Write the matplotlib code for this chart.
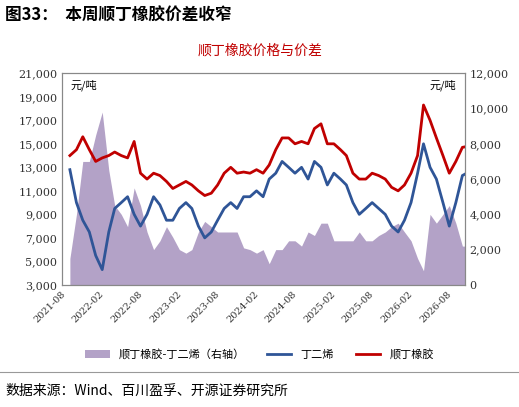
import matplotlib
matplotlib.use("Agg")
import matplotlib.pyplot as plt
import pandas as pd
import numpy as np

plt.rcParams['font.family'] = ['Noto Sans CJK SC', 'DejaVu Sans']

dates = pd.date_range("2021-07-15", periods=63, freq="MS") + pd.Timedelta(days=14)
red = [14000,14500,15600,14500,13500,13800,14000,14300,14000,13800,15200,12500,12000,12500,12300,11800,11200,11500,11800,11500,11000,10600,10800,11500,12500,13000,12500,12600,12500,12800,12500,13200,14500,15500,15500,15000,15200,15000,16300,16700,15000,15000,14500,14000,12500,12000,12000,12500,12300,12000,11300,11000,11500,12500,14000,18300,17000,15500,14000,12500,13500,14700,14800]
blue = [12800,10000,8500,7500,5500,4300,7500,9500,10000,10500,9000,8000,9000,10500,9800,8500,8500,9500,10000,9500,8000,7000,7500,8500,9500,10000,9500,10500,10500,11000,10500,12000,12500,13500,13000,12500,13000,12000,13500,13000,11500,12500,12000,11500,10000,9000,9500,10000,9500,9000,8000,7500,8500,10000,12500,15000,13000,12000,10000,8000,10000,12300,12600]
spread = [1500,4000,7000,7000,8500,9800,6500,4500,4000,3300,5500,4500,3000,2000,2500,3300,2700,2000,1800,2000,3000,3600,3300,3000,3000,3000,3000,2100,2000,1800,2000,1200,2000,2000,2500,2500,2200,3000,2800,3500,3500,2500,2500,2500,2500,3000,2500,2500,2800,3000,3300,3500,3000,2500,1500,800,4000,3500,4000,4500,3500,2200,2200]

fig = plt.figure(figsize=(5.19,4.07), dpi=100)
fig.text(0.01, 0.962, "图33：  本周顺丁橡胶价差收窄", fontsize=12, fontweight='bold', va='center')
ax = fig.add_axes([0.12, 0.30, 0.775, 0.52])
ax2 = ax.twinx()
ax2.fill_between(dates, spread, color='#b3a2c7', lw=0, label='顺丁橡胶-丁二烯（右轴）')
ax2.set_ylim(0, 12000)
ax.set_zorder(ax2.get_zorder()+1); ax.patch.set_visible(False)
ax.plot(dates, blue, color='#2f5597', lw=2, label='丁二烯')
ax.plot(dates, red, color='#c00000', lw=2, label='顺丁橡胶')
ax.set_ylim(3000, 21000)
ax.set_yticks(range(3000, 21001, 2000))
ax.set_yticklabels([f"{v:,}" for v in range(3000, 21001, 2000)], fontsize=8, family='DejaVu Serif')
ax2.set_yticks(range(0, 12001, 2000))
ax2.set_yticklabels([f"{v:,}" for v in range(0, 12001, 2000)], fontsize=8, family='DejaVu Serif')
ticks = pd.date_range("2021-08-01", "2026-08-01", freq="6MS")
ax.set_xticks(ticks)
ax.set_xticklabels([t.strftime("%Y-%m") for t in ticks], rotation=45, fontsize=7, family='DejaVu Serif', ha='right')
ax.set_xlim(pd.Timestamp("2021-07-10"), pd.Timestamp("2026-09-25"))
for a in (ax, ax2):
    for s in a.spines.values(): s.set_color('#888888')
    a.tick_params(length=0, colors='#333333')
ax.text(0.02, 0.97, "元/吨", transform=ax.transAxes, fontsize=8, va='top')
ax.text(0.98, 0.97, "元/吨", transform=ax.transAxes, fontsize=8, va='top', ha='right')
fig.text(0.5, 0.875, "顺丁橡胶价格与价差", color='#c00000', fontsize=10, ha='center', va='center')
h1, l1 = ax2.get_legend_handles_labels(); h2, l2 = ax.get_legend_handles_labels()
fig.legend(h1+h2, l1+l2, loc='center', bbox_to_anchor=(0.5, 0.13), ncol=3, frameon=False, fontsize=8, handlelength=2.2)
fig.add_artist(plt.Line2D([0.0,1.0],[0.085,0.085], color='#999999', lw=0.8))
fig.text(0.01, 0.04, "数据来源：Wind、百川盈孚、开源证券研究所", fontsize=10, va='center')
fig.savefig("out.png", dpi=100)
